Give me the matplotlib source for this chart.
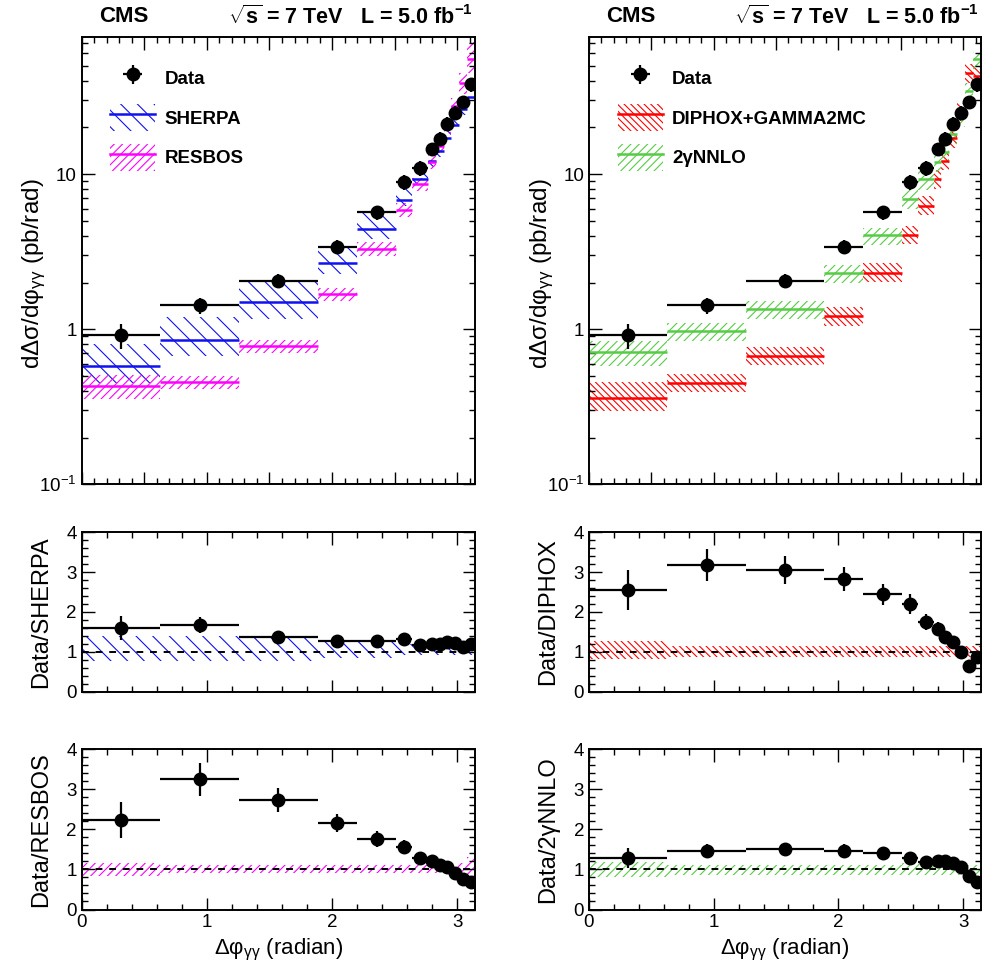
import numpy as np
import matplotlib
matplotlib.use('Agg')
import matplotlib.pyplot as plt
from matplotlib.patches import Patch
from matplotlib.lines import Line2D
from matplotlib.ticker import MultipleLocator, LogLocator, NullFormatter, FixedFormatter, FixedLocator

plt.rcParams['font.family'] = ['Liberation Sans', 'DejaVu Sans']
plt.rcParams['mathtext.fontset'] = 'custom'
plt.rcParams['mathtext.rm'] = 'Liberation Sans'
plt.rcParams['mathtext.it'] = 'Liberation Sans:italic'
plt.rcParams['mathtext.bf'] = 'Liberation Sans:bold'
plt.rcParams['mathtext.default'] = 'regular'
plt.rcParams['hatch.linewidth'] = 0.8

# ---------------- data ----------------
bin_edges = [0.0, 0.628, 1.257, 1.885, 2.199, 2.513, 2.639, 2.765, 2.827,
             2.890, 2.953, 3.016, 3.079, 3.1416]
data = [0.916, 1.43, 2.05, 3.40, 5.66, 8.91, 10.9, 14.5, 16.9, 21.2, 24.9, 29.1, 37.9]
data_err = [0.17, 0.17, 0.21, 0.36, 0.60, 0.95, 1.2, 1.5, 1.7, 2.1, 2.5, 2.9, 3.8]

sherpa = [0.576, 0.856, 1.49, 2.68, 4.46, 6.80, 9.32, 12.1, 14.1, 17.0, 20.6, 26.2, 31.6]
sherpa_up = [0.40, 0.40, 0.40, 0.28, 0.28, 0.20, 0.20, 0.20, 0.20, 0.20, 0.20, 0.20, 0.20]
sherpa_dn = [0.22, 0.22, 0.22, 0.15, 0.15, 0.08, 0.08, 0.08, 0.08, 0.08, 0.08, 0.08, 0.08]

resbos = [0.43, 0.455, 0.78, 1.68, 3.30, 5.90, 8.60, 12.0, 15.2, 20.2, 27.7, 38.8, 55.0]
resbos_up = [0.17, 0.10, 0.10, 0.10, 0.10, 0.10, 0.10, 0.10, 0.10, 0.10, 0.12, 0.15, 0.30]
resbos_dn = [0.17, 0.10, 0.10, 0.10, 0.10, 0.10, 0.10, 0.10, 0.10, 0.10, 0.12, 0.15, 0.18]

diphox = [0.359, 0.450, 0.672, 1.21, 2.32, 4.05, 6.26, 9.24, 12.2, 17.0, 25.2, 44.8, 43.1]
diphox_up = [0.27, 0.15, 0.15, 0.15, 0.15, 0.15, 0.15, 0.15, 0.15, 0.15, 0.15, 0.15, 0.15]
diphox_dn = [0.17, 0.13, 0.13, 0.13, 0.13, 0.13, 0.13, 0.13, 0.13, 0.13, 0.13, 0.13, 0.13]

nnlo = [0.710, 0.979, 1.36, 2.31, 4.04, 6.91, 9.24, 12.0, 13.9, 18.1, 23.3, 34.6, 54.9]
nnlo_up = [0.18, 0.12, 0.12, 0.12, 0.12, 0.15, 0.18, 0.18, 0.15, 0.12, 0.12, 0.12, 0.12]
nnlo_dn = [0.18, 0.14, 0.14, 0.14, 0.14, 0.14, 0.14, 0.14, 0.14, 0.14, 0.14, 0.14, 0.14]

ratio_sherpa = [1.59, 1.67, 1.38, 1.27, 1.27, 1.31, 1.17, 1.20, 1.20, 1.25, 1.21, 1.11, 1.20]
ratio_sherpa_err = [0.30, 0.20, 0.14, 0.13, 0.13, 0.14, 0.12, 0.12, 0.12, 0.12, 0.12, 0.11, 0.12]
ratio_resbos = [2.23, 3.24, 2.73, 2.15, 1.76, 1.57, 1.28, 1.21, 1.11, 1.05, 0.90, 0.75, 0.69]
ratio_resbos_err = [0.45, 0.41, 0.31, 0.23, 0.19, 0.17, 0.14, 0.13, 0.12, 0.11, 0.10, 0.08, 0.07]
ratio_diphox = [2.55, 3.18, 3.05, 2.82, 2.44, 2.20, 1.74, 1.57, 1.38, 1.25, 0.99, 0.65, 0.88]
ratio_diphox_err = [0.50, 0.40, 0.35, 0.30, 0.26, 0.24, 0.20, 0.17, 0.15, 0.14, 0.11, 0.07, 0.09]
ratio_nnlo = [1.29, 1.46, 1.51, 1.47, 1.40, 1.29, 1.18, 1.21, 1.22, 1.17, 1.07, 0.84, 0.69]
ratio_nnlo_err = [0.25, 0.17, 0.15, 0.15, 0.15, 0.14, 0.13, 0.13, 0.13, 0.12, 0.11, 0.09, 0.07]

edges = np.array(bin_edges)
lefts = edges[:-1]
widths = np.diff(edges)
centers = lefts + widths / 2
half = widths / 2

BLUE = '#1010f0'
MAG = '#ff00ff'
RED = '#ff0000'
GREEN = '#55cc44'

H_SHERPA = '\\\\'
H_RESBOS = '////'
H_DIPHOX = '\\\\\\\\\\'
H_NNLO = '////'

W, H = 987, 976
fig = plt.figure(figsize=(W / 100, H / 100), dpi=100)


def rect(x0, x1, y0, y1):
    return [x0 / W, 1 - y1 / H, (x1 - x0) / W, (y1 - y0) / H]


cols = [(81.7, 475.0), (589.0, 980.7)]
rows = [(36.7, 484.3), (532.3, 691.7), (749.0, 909.5)]

TICK_FS = 13.5


def style(ax):
    ax.tick_params(which='both', direction='in', top=True, right=True,
                   labelsize=TICK_FS, width=1.0)
    ax.tick_params(which='major', length=9)
    ax.tick_params(which='minor', length=4)
    for s in ax.spines.values():
        s.set_linewidth(1.4)


def draw_band(ax, vals, up, dn, color, hatch, ratio=False):
    up = np.array(up)
    dn = np.array(dn)
    if ratio:
        top = 1 + up
        bot = 1 - dn
    else:
        vals = np.array(vals)
        top = vals * (1 + up)
        bot = vals * (1 - dn)
    ax.bar(lefts, top - bot, bottom=bot, width=widths, align='edge',
           fill=False, hatch=hatch, edgecolor=color, linewidth=0)
    if not ratio:
        ax.hlines(vals, lefts, lefts + widths, colors=color, lw=1.8)


def main_panel(ax, models):
    handles = []
    labels = []
    for vals, up, dn, color, hatch, label in models:
        draw_band(ax, vals, up, dn, color, hatch)
    eb = ax.errorbar(centers, data, xerr=half, yerr=data_err, fmt='o', color='k',
                     ms=9, lw=1.6, capsize=0, zorder=5)
    handles.append(eb)
    labels.append('Data')
    for vals, up, dn, color, hatch, label in models:
        handles.append((Patch(fill=False, hatch=hatch, edgecolor=color, linewidth=0),
                        Line2D([], [], color=color, lw=1.8)))
        labels.append(label)
    ax.set_yscale('log')
    ax.set_ylim(0.1, 77)
    ax.set_xlim(0, np.pi)
    ax.yaxis.set_major_locator(FixedLocator([0.1, 1, 10]))
    ax.yaxis.set_major_formatter(FixedFormatter(['$10^{-1}$', '1', '10']))
    ax.yaxis.set_minor_locator(LogLocator(base=10, subs=np.arange(2, 10)))
    ax.yaxis.set_minor_formatter(NullFormatter())
    ax.xaxis.set_major_locator(MultipleLocator(0.5))
    ax.xaxis.set_minor_locator(MultipleLocator(0.1))
    style(ax)
    ax.tick_params(axis='x', labelbottom=False)
    ax.legend(handles, labels, loc='upper left', bbox_to_anchor=(0.03, 0.975),
              frameon=False, handlelength=2.4, handleheight=1.8,
              labelspacing=0.7, handletextpad=0.5,
              prop={'weight': 'bold', 'size': 13.5})
    ax.set_ylabel('dΔσ/dφ$_{γγ}$ (pb/rad)', fontsize=17.5)
    ax.yaxis.set_label_coords(-0.085, 0.47)


def ratio_panel(ax, r, rerr, up, dn, color, hatch, label, bottom=False):
    draw_band(ax, None, up, dn, color, hatch, ratio=True)
    ax.axhline(1, color='k', lw=1.4, ls=(0, (3.5, 3.5)), zorder=3)
    ax.errorbar(centers, r, xerr=half, yerr=rerr, fmt='o', color='k',
                ms=9, lw=1.6, capsize=0, zorder=5)
    ax.set_xlim(0, np.pi)
    ax.set_ylim(0, 4)
    ax.yaxis.set_major_locator(MultipleLocator(1))
    ax.yaxis.set_minor_locator(MultipleLocator(0.2))
    ax.xaxis.set_major_locator(MultipleLocator(1))
    ax.xaxis.set_minor_locator(MultipleLocator(0.2))
    style(ax)
    if bottom:
        ax.set_xlabel('Δφ$_{γγ}$ (radian)', fontsize=16, labelpad=4)
    else:
        ax.tick_params(axis='x', labelbottom=False)
    ax.set_ylabel(label, fontsize=17)
    ax.yaxis.set_label_coords(-0.075, 0.5)


# left column
ax1 = fig.add_axes(rect(cols[0][0], cols[0][1], *rows[0]))
main_panel(ax1, [
    (sherpa, sherpa_up, sherpa_dn, BLUE, H_SHERPA, 'SHERPA'),
    (resbos, resbos_up, resbos_dn, MAG, H_RESBOS, 'RESBOS'),
])
ax2 = fig.add_axes(rect(cols[0][0], cols[0][1], *rows[1]))
ratio_panel(ax2, ratio_sherpa, ratio_sherpa_err, sherpa_up, sherpa_dn, BLUE, H_SHERPA, 'Data/SHERPA')
ax3 = fig.add_axes(rect(cols[0][0], cols[0][1], *rows[2]))
ratio_panel(ax3, ratio_resbos, ratio_resbos_err, resbos_up, resbos_dn, MAG, H_RESBOS, 'Data/RESBOS', bottom=True)

# right column
ax4 = fig.add_axes(rect(cols[1][0], cols[1][1], *rows[0]))
main_panel(ax4, [
    (diphox, diphox_up, diphox_dn, RED, H_DIPHOX, 'DIPHOX+GAMMA2MC'),
    (nnlo, nnlo_up, nnlo_dn, GREEN, H_NNLO, '2γNNLO'),
])
ax5 = fig.add_axes(rect(cols[1][0], cols[1][1], *rows[1]))
ratio_panel(ax5, ratio_diphox, ratio_diphox_err, diphox_up, diphox_dn, RED, H_DIPHOX, 'Data/DIPHOX')
ax6 = fig.add_axes(rect(cols[1][0], cols[1][1], *rows[2]))
ratio_panel(ax6, ratio_nnlo, ratio_nnlo_err, nnlo_up, nnlo_dn, GREEN, H_NNLO, 'Data/2γNNLO', bottom=True)

# headers
for (x0, x1) in cols:
    fig.text((x0 + 42) / W, 1 - 17 / H, 'CMS', fontsize=16, fontweight='bold',
             ha='center', va='center')
    fig.text((x1 - 2) / W, 1 - 17 / H, r'$\sqrt{s}$ = 7 TeV   L = 5.0 fb$^{-1}$',
             fontsize=15.5, fontweight='bold', ha='right', va='center')

fig.savefig('out.png', dpi=100)
